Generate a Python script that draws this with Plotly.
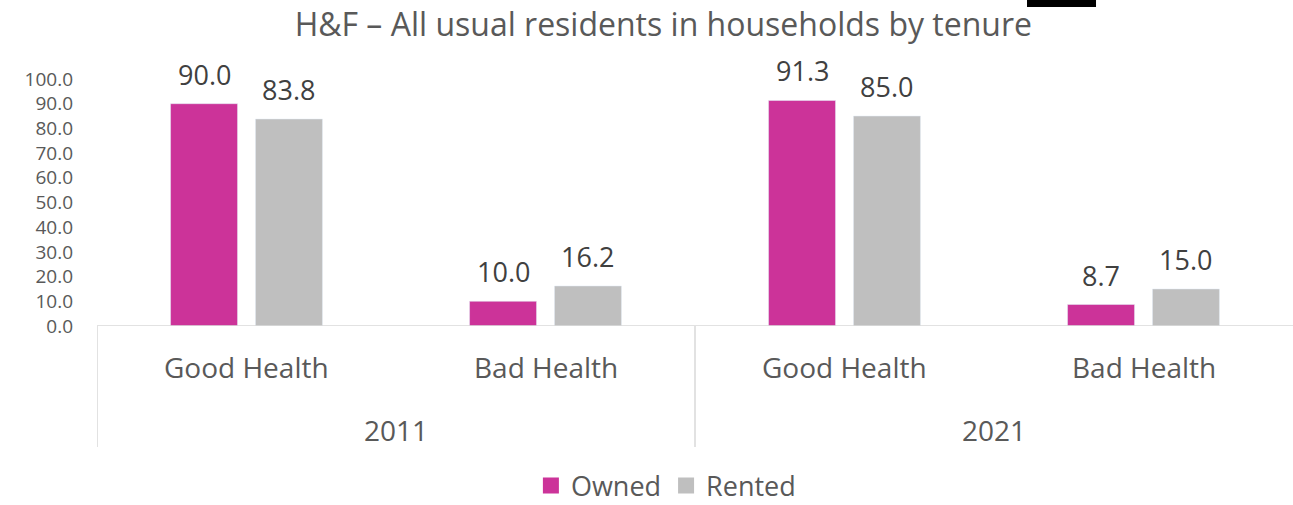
import plotly.graph_objects as go

years = ["2011", "2011", "2021", "2021"]
health = ["Good Health", "Bad Health", "Good Health", "Bad Health"]
owned = [90.0, 10.0, 91.3, 8.7]
rented = [83.8, 16.2, 85.0, 15.0]
year_labels = ["2011", "2021"]
ytick_vals = [0, 10, 20, 30, 40, 50, 60, 70, 80, 90, 100]

FONT = "Open Sans"
GREY = "#595959"
DARK = "#404040"
LINE = "#D9D9D9"
C_OWNED = "#CC3399"
C_RENTED = "#BFBFBF"

W = 0.224
OFF_O = -0.254
OFF_R = 0.030

xs = list(range(len(health)))

fig = go.Figure()
fig.add_trace(go.Bar(x=xs, y=owned, name="Owned", marker_color=C_OWNED,
                     width=W, offset=OFF_O, showlegend=False))
fig.add_trace(go.Bar(x=xs, y=rented, name="Rented", marker_color=C_RENTED,
                     width=W, offset=OFF_R, showlegend=False))
# legend entries with square swatches
fig.add_trace(go.Scatter(x=[None], y=[None], mode="markers", name="Owned",
                         marker=dict(symbol="square", size=16, color=C_OWNED)))
fig.add_trace(go.Scatter(x=[None], y=[None], mode="markers", name="Rented",
                         marker=dict(symbol="square", size=16, color=C_RENTED)))

ann = []
for i, v in enumerate(owned):
    ann.append(dict(x=i + OFF_O + W / 2, y=v, xref="x", yref="y", text=f"{v:.1f}",
                    showarrow=False, yanchor="bottom", yshift=9,
                    font=dict(family=FONT, size=27, color=DARK)))
for i, v in enumerate(rented):
    ann.append(dict(x=i + OFF_R + W / 2, y=v, xref="x", yref="y", text=f"{v:.1f}",
                    showarrow=False, yanchor="bottom", yshift=9,
                    font=dict(family=FONT, size=27, color=DARK)))
for i, h in enumerate(health):
    ann.append(dict(x=i, y=0, xref="x", yref="paper", text=h, showarrow=False,
                    yanchor="middle", yshift=-41,
                    font=dict(family=FONT, size=28, color=GREY)))
for g, yl in enumerate(year_labels):
    ann.append(dict(x=2 * g + 0.5, y=0, xref="x", yref="paper", text=yl, showarrow=False,
                    yanchor="middle", yshift=-104,
                    font=dict(family=FONT, size=28, color=GREY)))

shapes = [
    dict(type="line", xref="paper", yref="y", x0=0, x1=1, y0=0, y1=0,
         line=dict(color=LINE, width=1.5)),
    dict(type="line", xref="x", yref="paper", x0=-0.5, x1=-0.5, y0=0, y1=-0.49,
         line=dict(color=LINE, width=1.5)),
    dict(type="line", xref="x", yref="paper", x0=1.5, x1=1.5, y0=0, y1=-0.49,
         line=dict(color=LINE, width=1.5)),
    dict(type="rect", xref="paper", yref="paper", x0=0.7776, x1=0.8353, y0=1.291, y1=1.33,
         fillcolor="black", line=dict(width=0)),
]

fig.update_layout(
    width=1293, height=505,
    margin=dict(l=97, r=0, t=79, b=179, autoexpand=False),
    paper_bgcolor="white", plot_bgcolor="white",
    title=dict(text="H&F – All usual residents in households by tenure",
               x=0.513, xanchor="center", xref="container",
               y=1 - 25 / 505, yanchor="middle", yref="container",
               font=dict(family=FONT, size=32, color=GREY)),
    xaxis=dict(range=[-0.5, 3.5], showticklabels=False, showgrid=False,
               zeroline=False, showline=False, ticks="", fixedrange=True),
    yaxis=dict(range=[0, 100], tickvals=ytick_vals, tickformat=".1f",
               showgrid=False, zeroline=False, showline=False, ticks="",
               ticklabelstandoff=23,
               tickfont=dict(family=FONT, size=19, color=GREY)),
    showlegend=True,
    legend=dict(orientation="h", x=0.515, xanchor="center", xref="container",
                y=1 - 486 / 505, yanchor="middle", yref="container",
                font=dict(family=FONT, size=27, color=GREY), itemwidth=30,
                traceorder="normal", tracegroupgap=0),
    annotations=ann,
    shapes=shapes,
    font=dict(family=FONT, color=GREY),
)

fig.write_html("out.html")
